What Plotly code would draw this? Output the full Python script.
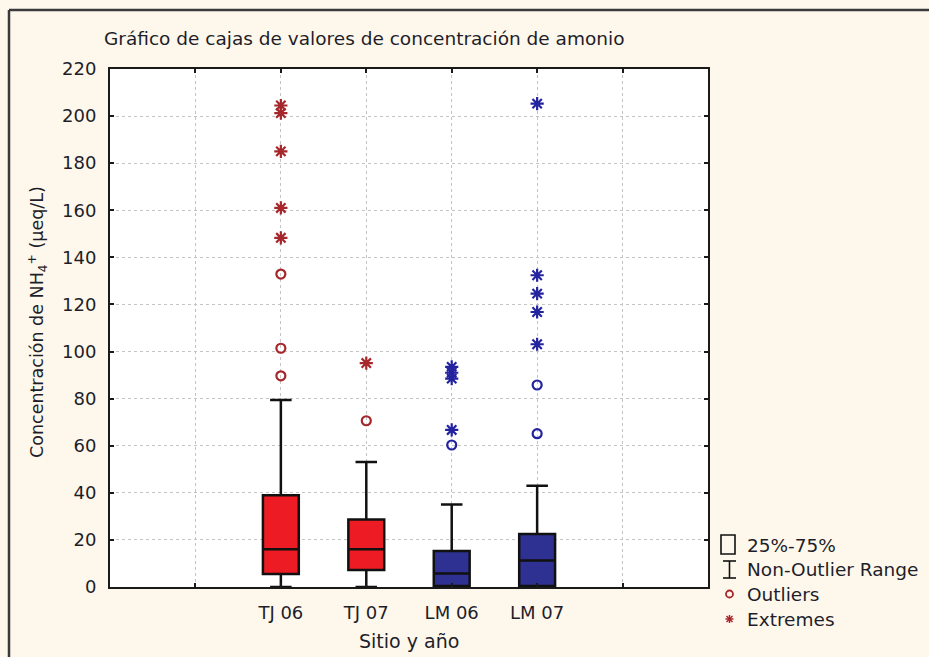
import plotly.graph_objects as go

# Sites / years and their box statistics (NH4+ concentration, µeq/L)
sites = ["TJ 06", "TJ 07", "LM 06", "LM 07"]
site_pos = [2, 3, 4, 5]
q1 = [5.5, 7.2, 0.4, 0.4]
median = [16.0, 16.0, 5.7, 11.3]
q3 = [39.0, 28.7, 15.3, 22.5]
whisker_low = [0.0, 0.0, 0.0, 0.0]
whisker_high = [79.4, 53.1, 35.0, 43.0]

# Outliers (circles) and extremes (asterisks) per site
outliers = [
    [132.9, 101.4, 89.7],
    [70.6],
    [60.3],
    [85.8, 65.1],
]
extremes = [
    [204.5, 201.3, 185.0, 161.0, 148.3],
    [95.1],
    [93.5, 91.0, 88.5, 66.7],
    [205.3, 132.4, 124.6, 116.8, 103.1],
]

box_fill = ["#ED1C24", "#ED1C24", "#2E3192", "#2E3192"]
point_color = ["#A5262B", "#A5262B", "#2323A0", "#2323A0"]

FONT = "DejaVu Sans"
TEXT = "#1e1e2a"
W, H = 929, 657
L, R, T, B = 110, 708, 69, 587  # plot area in pixels

fig = go.Figure()

for i in range(len(sites)):
    fig.add_trace(go.Box(
        x=[site_pos[i]],
        q1=[q1[i]], median=[median[i]], q3=[q3[i]],
        lowerfence=[whisker_low[i]], upperfence=[whisker_high[i]],
        width=0.42, whiskerwidth=0.6,
        fillcolor=box_fill[i],
        line=dict(color="#111111", width=2.5),
        boxpoints=False, showlegend=False, hoverinfo="skip",
    ))
    fig.add_trace(go.Scatter(
        x=[site_pos[i]] * len(outliers[i]), y=outliers[i], mode="markers",
        marker=dict(symbol="circle-open", size=9, color=point_color[i],
                    line=dict(width=2.2, color=point_color[i])),
        showlegend=False, hoverinfo="skip",
    ))
    fig.add_trace(go.Scatter(
        x=[site_pos[i]] * len(extremes[i]), y=extremes[i], mode="markers",
        marker=dict(symbol="asterisk-open", size=11, color=point_color[i],
                    line=dict(width=2.2, color=point_color[i])),
        showlegend=False, hoverinfo="skip",
    ))

grid_style = dict(gridcolor="#C4C4C4", griddash="dot", gridwidth=1)
axis_common = dict(
    showgrid=True, **grid_style,
    showline=True, linecolor="#1a1a1a", linewidth=2, mirror="ticks",
    ticks="inside", ticklen=4, tickcolor="#1a1a1a", tickwidth=1.5,
    zeroline=False, tickfont=dict(family=FONT, size=18, color=TEXT),
    ticklabelstandoff=8,
)

fig.update_xaxes(
    range=[0, 7], tickvals=site_pos, ticktext=sites,
    minor=dict(tickvals=[1, 6], showgrid=True, ticks="inside", ticklen=4,
               tickcolor="#1a1a1a", **grid_style),
    **axis_common,
)
fig.update_yaxes(range=[0, 220], dtick=20, **axis_common)


def px(x):
    return (x - L) / (R - L)


def py(y):
    return (B - y) / (B - T)


frame = dict(color="#3a3a3a", width=2.5)
shapes = [
    # outer frame of the graph window (left and top edges)
    dict(type="line", xref="paper", yref="paper",
         x0=px(9), x1=px(9), y0=py(657), y1=py(10), line=frame),
    dict(type="line", xref="paper", yref="paper",
         x0=px(9), x1=px(929), y0=py(10), y1=py(10), line=frame),
    # legend: box icon
    dict(type="rect", xref="paper", yref="paper",
         x0=px(721), x1=px(735), y0=py(554), y1=py(535),
         line=dict(color="#111111", width=1.6)),
    # legend: whisker icon
    dict(type="line", xref="paper", yref="paper",
         x0=px(729.5), x1=px(729.5), y0=py(561), y1=py(578),
         line=dict(color="#111111", width=1.6)),
    dict(type="line", xref="paper", yref="paper",
         x0=px(723), x1=px(736), y0=py(561), y1=py(561),
         line=dict(color="#111111", width=1.6)),
    dict(type="line", xref="paper", yref="paper",
         x0=px(723), x1=px(736), y0=py(578), y1=py(578),
         line=dict(color="#111111", width=1.6)),
    # legend: outlier circle
    dict(type="circle", xref="paper", yref="paper",
         x0=px(726), x1=px(733), y0=py(597.5), y1=py(590.5),
         line=dict(color="#A5262B", width=1.8)),
]
# legend: extreme asterisk
cx, cy, r = 729.5, 619, 4
for dx, dy in [(r, 0), (0, r), (r * 0.75, r * 0.75), (r * 0.75, -r * 0.75)]:
    shapes.append(dict(type="line", xref="paper", yref="paper",
                       x0=px(cx - dx), x1=px(cx + dx),
                       y0=py(cy - dy), y1=py(cy + dy),
                       line=dict(color="#A5262B", width=1.5)))

legend_labels = ["25%-75%", "Non-Outlier Range", "Outliers", "Extremes"]
legend_y = [545, 569, 594, 619]

annotations = [
    dict(text="Gráfico de cajas de valores de concentración de amonio",
         xref="paper", yref="paper", x=px(102), y=py(39),
         xanchor="left", yanchor="middle", showarrow=False,
         font=dict(family=FONT, size=18.5, color=TEXT)),
    dict(text="Concentración de NH<sub>4</sub><sup>+</sup> (µeq/L)",
         xref="paper", yref="paper", x=px(37), y=py(322),
         xanchor="center", yanchor="middle", textangle=-90, showarrow=False,
         font=dict(family=FONT, size=17.5, color=TEXT)),
    dict(text="Sitio y año", xref="paper", yref="paper",
         x=px(409), y=py(641), xanchor="center", yanchor="middle",
         showarrow=False, font=dict(family=FONT, size=19, color=TEXT)),
]
for lab, ly in zip(legend_labels, legend_y):
    annotations.append(dict(
        text=lab, xref="paper", yref="paper", x=px(745), y=py(ly),
        xanchor="left", yanchor="middle", showarrow=False,
        font=dict(family=FONT, size=18.5, color=TEXT)))

fig.update_layout(
    width=W, height=H,
    margin=dict(l=L, r=W - R, t=T, b=H - B, pad=0),
    paper_bgcolor="#FEF8EC", plot_bgcolor="#FFFFFF",
    shapes=shapes, annotations=annotations, showlegend=False,
)

fig.write_html("out.html")
